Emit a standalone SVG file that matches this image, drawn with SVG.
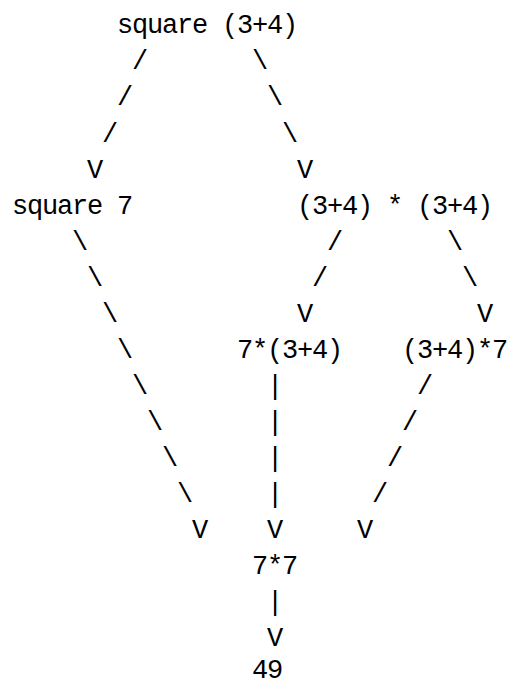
<svg xmlns="http://www.w3.org/2000/svg" width="508" height="684" viewBox="0 0 508 684">
<style>
text{font-family:"Liberation Mono","DejaVu Sans Mono",monospace;font-size:27px;fill:#000}
.n{letter-spacing:-1.2px}
.c text{text-anchor:middle}
</style>
<rect width="508" height="684" fill="#fff"/>
<g id="connectors" class="c">
<g id="e1"><text x="140" y="69.4">/</text><text x="125" y="105.4">/</text><text x="110" y="141.5">/</text><text x="95" y="177.5">V</text></g>
<g id="e2"><text x="260" y="69.4">\</text><text x="275" y="105.4">\</text><text x="290" y="141.5">\</text><text x="305" y="177.5">V</text></g>
<g id="e3"><text x="80" y="249.6">\</text><text x="95" y="285.7">\</text><text x="110" y="321.7">\</text><text x="125" y="357.8">\</text><text x="140" y="393.8">\</text><text x="155" y="429.9">\</text><text x="170" y="465.9">\</text><text x="185" y="502">\</text><text x="200" y="538">V</text></g>
<g id="e4"><text x="335" y="249.6">/</text><text x="320" y="285.7">/</text><text x="305" y="321.7">V</text></g>
<g id="e5"><text x="455" y="249.6">\</text><text x="470" y="285.7">\</text><text x="485" y="321.7">V</text></g>
<g id="e6"><text x="275" y="393.8">|</text><text x="275" y="429.9">|</text><text x="275" y="465.9">|</text><text x="275" y="502">|</text><text x="275" y="538">V</text></g>
<g id="e7"><text x="425" y="393.8">/</text><text x="410" y="429.9">/</text><text x="395" y="465.9">/</text><text x="380" y="502">/</text><text x="365" y="538">V</text></g>
<g id="e8"><text x="275" y="610.1">|</text><text x="275" y="646.2">V</text></g>
</g>
<g id="n-square34"><text class="n" x="116.9" y="33.3">square (3+4)</text></g>
<g id="n-square7"><text class="n" x="11.9" y="213.6">square 7</text></g>
<g id="n-mul"><text class="n" x="296.9" y="213.6" xml:space="preserve">(3+4) * (3+4)</text></g>
<g id="n-7mul"><text class="n" x="236.9" y="357.8">7*(3+4)</text></g>
<g id="n-mul7"><text class="n" x="401.9" y="357.8">(3+4)*7</text></g>
<g id="n-77"><text class="n" x="251.9" y="574.1">7*7</text></g>
<g id="n-49"><text class="n" x="251.9" y="678">49</text></g>
</svg>
